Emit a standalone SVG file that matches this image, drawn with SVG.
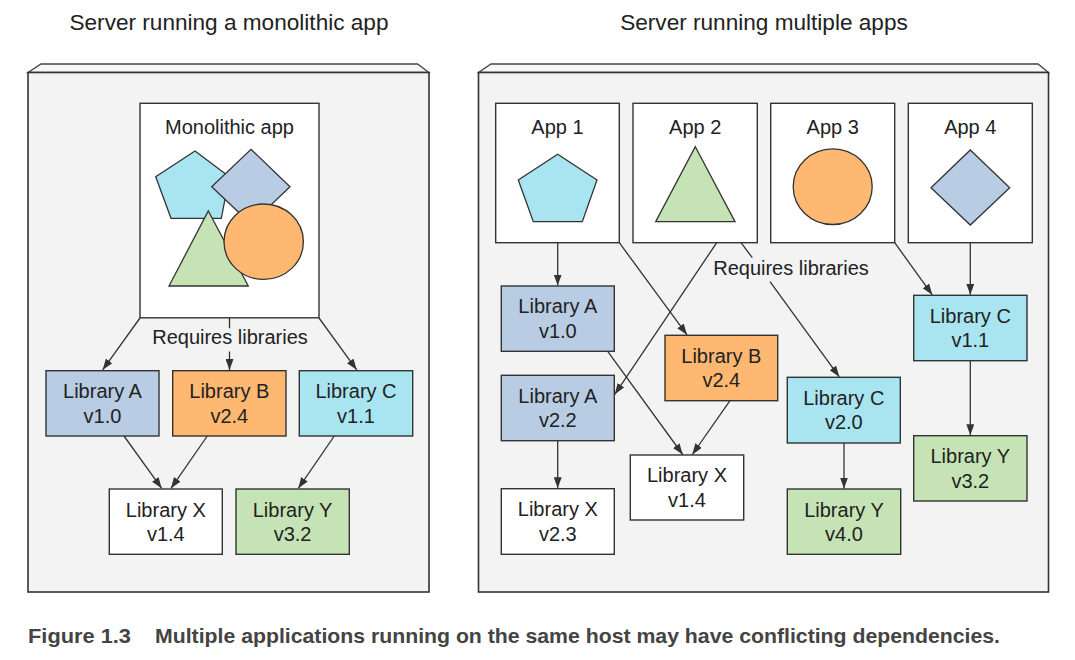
<svg xmlns="http://www.w3.org/2000/svg" width="1075" height="660" viewBox="0 0 1075 660">
<defs>
<style>
text{font-family:"Liberation Sans",Arial,sans-serif;fill:#222;text-anchor:middle}
.t{font-size:22.6px}
.n{font-size:20px}
.srv{fill:#f3f3f3;stroke:#333;stroke-width:1.6}
.bev{fill:#f8f8f8;stroke:#444;stroke-width:1.3}
.box{stroke:#333;stroke-width:1.4}
.w{fill:#fff}.a{fill:#b8cce4}.b{fill:#ffb871}.c{fill:#a9e5f0}.g{fill:#c6e3b5}
.sh{stroke:#333;stroke-width:1.3}
.ln{fill:none;stroke:#333;stroke-width:1.3}
.ar{marker-end:url(#ah)}
.cap{font-family:"Liberation Sans",Arial,sans-serif;font-weight:bold;font-size:21px;fill:#444;text-anchor:start}
</style>
<marker id="ah" markerUnits="userSpaceOnUse" markerWidth="11" markerHeight="8" refX="11" refY="4" orient="auto">
<path d="M0,0 L11,4 L0,8 z" fill="#333"/>
</marker>
</defs>
<rect width="1075" height="660" fill="#fff"/>

<text class="t" x="229" y="30">Server running a monolithic app</text>
<text class="t" x="764" y="30">Server running multiple apps</text>

<g id="server-left">
<polygon class="bev" points="28,72.5 41,64 417.5,64 429,72.5"/>
<rect class="srv" x="28" y="72.5" width="401" height="519.5"/>
</g>
<g id="server-right">
<polygon class="bev" points="478.5,72.5 491,64 1038,64 1048.5,72.5"/>
<rect class="srv" x="478.5" y="72.5" width="570" height="519.5"/>
</g>

<g id="monolithic-app">
<rect class="box w" x="140" y="103.3" width="179" height="214.5"/>
<text class="n" x="229.5" y="134">Monolithic app</text>
<polygon class="sh c" points="195,151 229.3,176.7 221.3,218.3 171,218.3 155.7,176.7"/>
<polygon class="sh a" points="251,149.3 290,186.7 251,224 211.7,186.7"/>
<polygon class="sh g" points="208.3,211 248.3,286 169,286"/>
<ellipse class="sh b" cx="263.7" cy="241.7" rx="39.7" ry="37.7"/>
</g>

<g id="l-libA"><rect class="box a" x="46" y="370.7" width="113" height="65.3"/><text class="n" x="102.5" y="398.3">Library A</text><text class="n" x="102.5" y="422.7">v1.0</text></g>
<g id="l-libB"><rect class="box b" x="172.7" y="370.7" width="113.3" height="65.3"/><text class="n" x="229.3" y="398.3">Library B</text><text class="n" x="229.3" y="422.7">v2.4</text></g>
<g id="l-libC"><rect class="box c" x="299.3" y="370.7" width="113.4" height="65.3"/><text class="n" x="356" y="398.3">Library C</text><text class="n" x="356" y="422.7">v1.1</text></g>
<g id="l-libX"><rect class="box w" x="109.3" y="489" width="113" height="65.3"/><text class="n" x="165.8" y="516.5">Library X</text><text class="n" x="165.8" y="541">v1.4</text></g>
<g id="l-libY"><rect class="box g" x="236" y="489" width="113.3" height="65.3"/><text class="n" x="292.6" y="516.5">Library Y</text><text class="n" x="292.6" y="541">v3.2</text></g>

<g id="app1"><rect class="box w" x="495.7" y="103.3" width="123.6" height="139.4"/><text class="n" x="557.5" y="134.3">App 1</text>
<polygon class="sh c" points="557.7,154.3 597,180 582.3,221.7 533.3,221.7 518.3,180"/></g>
<g id="app2"><rect class="box w" x="633" y="103.3" width="124.3" height="139.4"/><text class="n" x="695.2" y="134.3">App 2</text>
<polygon class="sh g" points="695.3,146.7 735,221.7 655.7,221.7"/></g>
<g id="app3"><rect class="box w" x="770.7" y="103.3" width="124" height="139.4"/><text class="n" x="832.7" y="134.3">App 3</text>
<ellipse class="sh b" cx="832.7" cy="186.7" rx="39.5" ry="37.8"/></g>
<g id="app4"><rect class="box w" x="908.3" y="103.3" width="124" height="139.4"/><text class="n" x="970.3" y="134.3">App 4</text>
<polygon class="sh a" points="970.3,150 1009.7,187.7 970.3,225 931,187.7"/></g>

<g id="r-libA10"><rect class="box a" x="501.3" y="286" width="113" height="65.3"/><text class="n" x="557.8" y="313">Library A</text><text class="n" x="557.8" y="338">v1.0</text></g>
<g id="r-libA22"><rect class="box a" x="501.3" y="375.3" width="113" height="65.4"/><text class="n" x="557.8" y="402.5">Library A</text><text class="n" x="557.8" y="427">v2.2</text></g>
<g id="r-libX23"><rect class="box w" x="501.3" y="488.7" width="113" height="65.6"/><text class="n" x="557.8" y="516">Library X</text><text class="n" x="557.8" y="540.5">v2.3</text></g>
<g id="r-libB"><rect class="box b" x="665" y="335.3" width="112.7" height="65.4"/><text class="n" x="721.3" y="362.5">Library B</text><text class="n" x="721.3" y="387">v2.4</text></g>
<g id="r-libX14"><rect class="box w" x="630.3" y="455" width="113.4" height="65"/><text class="n" x="687" y="482">Library X</text><text class="n" x="687" y="506.5">v1.4</text></g>
<g id="r-libC20"><rect class="box c" x="787.3" y="377.3" width="113" height="65.7"/><text class="n" x="843.8" y="404.5">Library C</text><text class="n" x="843.8" y="429">v2.0</text></g>
<g id="r-libY40"><rect class="box g" x="787.3" y="489" width="113.4" height="65.3"/><text class="n" x="844" y="516.5">Library Y</text><text class="n" x="844" y="541">v4.0</text></g>
<g id="r-libC11"><rect class="box c" x="913.7" y="295.3" width="113.3" height="65.4"/><text class="n" x="970.3" y="322.5">Library C</text><text class="n" x="970.3" y="347">v1.1</text></g>
<g id="r-libY32"><rect class="box g" x="913.7" y="435.7" width="113.3" height="65.3"/><text class="n" x="970.3" y="463">Library Y</text><text class="n" x="970.3" y="487.5">v3.2</text></g>

<g id="connectors">
<path class="ln ar" d="M140,318 L102.7,369.8"/>
<path class="ln" d="M229.5,318 V328.3"/>
<path class="ln ar" d="M229.5,351.5 V370"/>
<path class="ln ar" d="M319,318 L356.7,369.8"/>
<path class="ln ar" d="M124,436 L161.7,488.3"/>
<path class="ln ar" d="M207.3,436 L171,488.3"/>
<path class="ln ar" d="M334.3,436 L298.3,488.3"/>
<text class="n" x="230" y="344.3">Requires libraries</text>

<path class="ln ar" d="M557.7,242.7 V285.5"/>
<path class="ln ar" d="M619.3,242.7 L687,334.8"/>
<path class="ln ar" d="M716.7,242.7 L614.8,394.3"/>
<path class="ln" d="M741,242.7 L752.3,257.7"/>
<path class="ln ar" d="M770,281.7 L839.3,376.8"/>
<path class="ln ar" d="M894.7,242.7 L932.3,294.8"/>
<path class="ln ar" d="M970.3,242.7 V294.8"/>
<path class="ln ar" d="M607.7,351.3 L682.7,454.5"/>
<path class="ln ar" d="M730,400.7 L692.3,454.5"/>
<path class="ln ar" d="M557.7,440.7 V488.2"/>
<path class="ln ar" d="M844,443 V488.5"/>
<path class="ln ar" d="M970.3,360.7 V435.2"/>
<text class="n" x="791" y="275">Requires libraries</text>
</g>

<text class="cap" x="28" y="643" textLength="103" lengthAdjust="spacingAndGlyphs">Figure 1.3</text>
<text class="cap" x="155" y="643" textLength="845" lengthAdjust="spacingAndGlyphs">Multiple applications running on the same host may have conflicting dependencies.</text>
</svg>
